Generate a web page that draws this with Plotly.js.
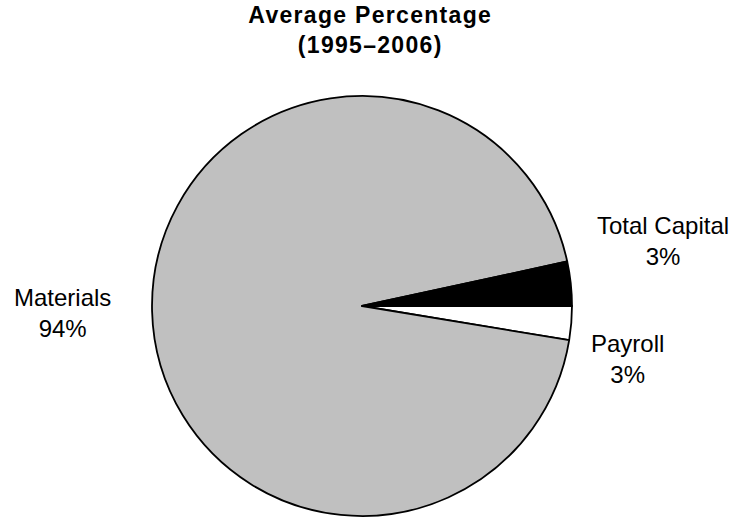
<!DOCTYPE html>
<html>
<head>
<meta charset="utf-8">
<script src="https://cdn.plot.ly/plotly-3.0.1.min.js"></script>
<style>
html,body{margin:0;padding:0;background:#fff;}
#chart{width:739px;height:519px;}
.gtitle{letter-spacing:1.3px;}
</style>
</head>
<body>
<div id="chart"></div>
<script>
const categories = ["Payroll", "Materials", "Total Capital"];
const values = [2.6, 94.0, 3.4];
const sliceColors = ["#ffffff", "#c0c0c0", "#000000"];
const chartTitle = "Average Percentage<br>(1995–2006)";

const FONT = "Arial, 'Liberation Sans', Helvetica, sans-serif";
const W = 739, H = 519;

// label anchor positions (pixels from top-left), by category
const labelPos = {
  "Payroll": [627, 359],
  "Materials": [62, 313],
  "Total Capital": [663, 241]
};

const total = values.reduce((a, b) => a + b, 0);

const trace = {
  type: "pie",
  labels: categories,
  values: values,
  sort: false,
  direction: "clockwise",
  rotation: 90,
  marker: {colors: sliceColors, line: {color: "#000", width: 1.8}},
  textinfo: "none",
  hoverinfo: "label+percent",
  showlegend: false,
  domain: {x: [0.2057, 0.774], y: [0.0058, 0.815]}
};

const annotations = categories.map((c, i) => ({
  text: c + "<br>" + Math.round(values[i] / total * 100) + "%",
  xref: "paper", yref: "paper",
  x: labelPos[c][0] / W,
  y: 1 - labelPos[c][1] / H,
  xanchor: "center", yanchor: "middle",
  align: "center",
  showarrow: false,
  font: {family: FONT, size: 24, color: "#000"}
}));

const layout = {
  width: W,
  height: H,
  margin: {l: 0, r: 0, t: 0, b: 0},
  paper_bgcolor: "#fff",
  plot_bgcolor: "#fff",
  title: {
    text: "<b>" + chartTitle + "</b>",
    font: {family: FONT, size: 23, color: "#000"},
    x: 0.501, xanchor: "center",
    y: 0.956, yanchor: "top"
  },
  annotations: annotations,
  font: {family: FONT}
};

Plotly.newPlot("chart", [trace], layout, {displayModeBar: false, staticPlot: true});
</script>
</body>
</html>
